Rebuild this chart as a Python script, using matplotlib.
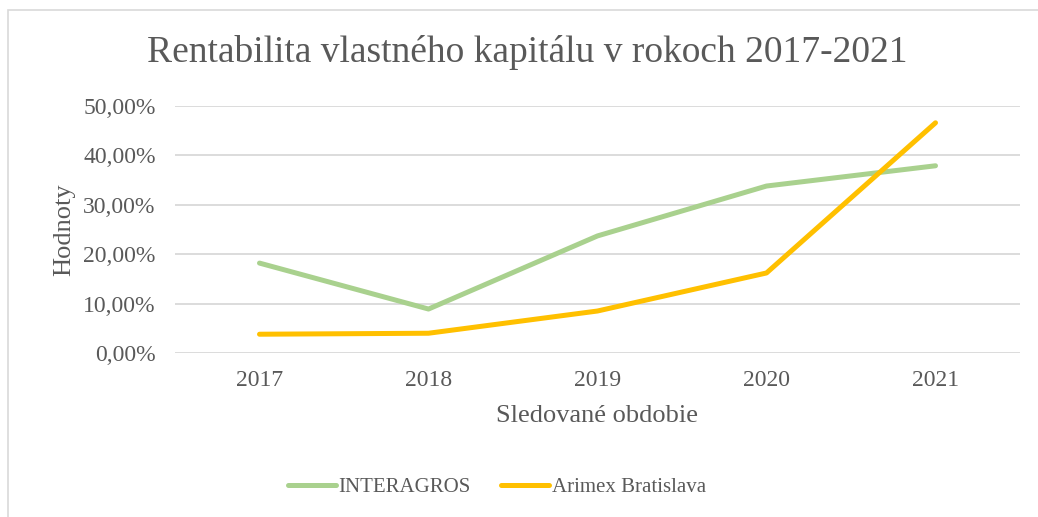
import matplotlib
matplotlib.use('Agg')
import matplotlib.pyplot as plt
from matplotlib.ticker import MultipleLocator, FuncFormatter
from matplotlib.patches import Rectangle

# --- data --- #
years = ['2017', '2018', '2019', '2020', '2021']
interagros = [18.2, 8.9, 23.7, 33.8, 37.9]
arimex = [3.8, 4.0, 8.5, 16.2, 46.6]

txt = '#595959'
plt.rcParams['font.family'] = ['Liberation Serif', 'DejaVu Serif']

fig = plt.figure(figsize=(10.38, 5.17), dpi=100)
ax1 = fig.add_axes([175/1038, 1-353/517, 845/1038, 247/517])

# chart area border
fig.patches.append(Rectangle((8/1038, -0.1), 1.2, 1-10/517+0.1, transform=fig.transFigure,
                             fill=False, edgecolor='#D9D9D9', lw=1.2))

x = range(len(years))
ax1.plot(x, interagros, '-', color='#A9D18E', lw=3.6, solid_capstyle='round', label='INTERAGROS')
ax1.plot(x, arimex, '-', color='#FFC000', lw=3.6, solid_capstyle='round', label='Arimex Bratislava')

#Limits
ax1.set_xlim(-0.5, 4.5)
ax1.set_ylim(0, 50)

#Ticks
ax1.set_xticks(list(x))
ax1.set_xticklabels(years)
ax1.yaxis.set_major_locator(MultipleLocator(10))
ax1.yaxis.set_major_formatter(FuncFormatter(lambda v, p: ('%.2f%%' % v).replace('.', ',')))
ax1.tick_params(length=0, labelsize=17, labelcolor=txt)
ax1.tick_params(axis='x', pad=12)
ax1.tick_params(axis='y', pad=14)
ax1.grid(axis='y', color='#D9D9D9', lw=1.3)
ax1.set_axisbelow(True)
for s in ax1.spines.values():
    s.set_visible(False)

#Labels
fig.text(527/1038, 1-52/517, 'Rentabilita vlastného kapitálu v rokoch 2017-2021',
         fontsize=27, color=txt, ha='center', va='center')
ax1.set_xlabel('Sledované obdobie', fontsize=19, color=txt, labelpad=10)
ax1.set_ylabel('Hodnoty', fontsize=19, color=txt, labelpad=6)

#Legend
fig.legend(loc='center', bbox_to_anchor=(497/1038, 1-487/517), ncol=2, frameon=False,
           prop={'size': 15}, labelcolor=txt, handlelength=2.3, handletextpad=0.15, columnspacing=1.45)

fig.savefig('out.png', dpi=100)
